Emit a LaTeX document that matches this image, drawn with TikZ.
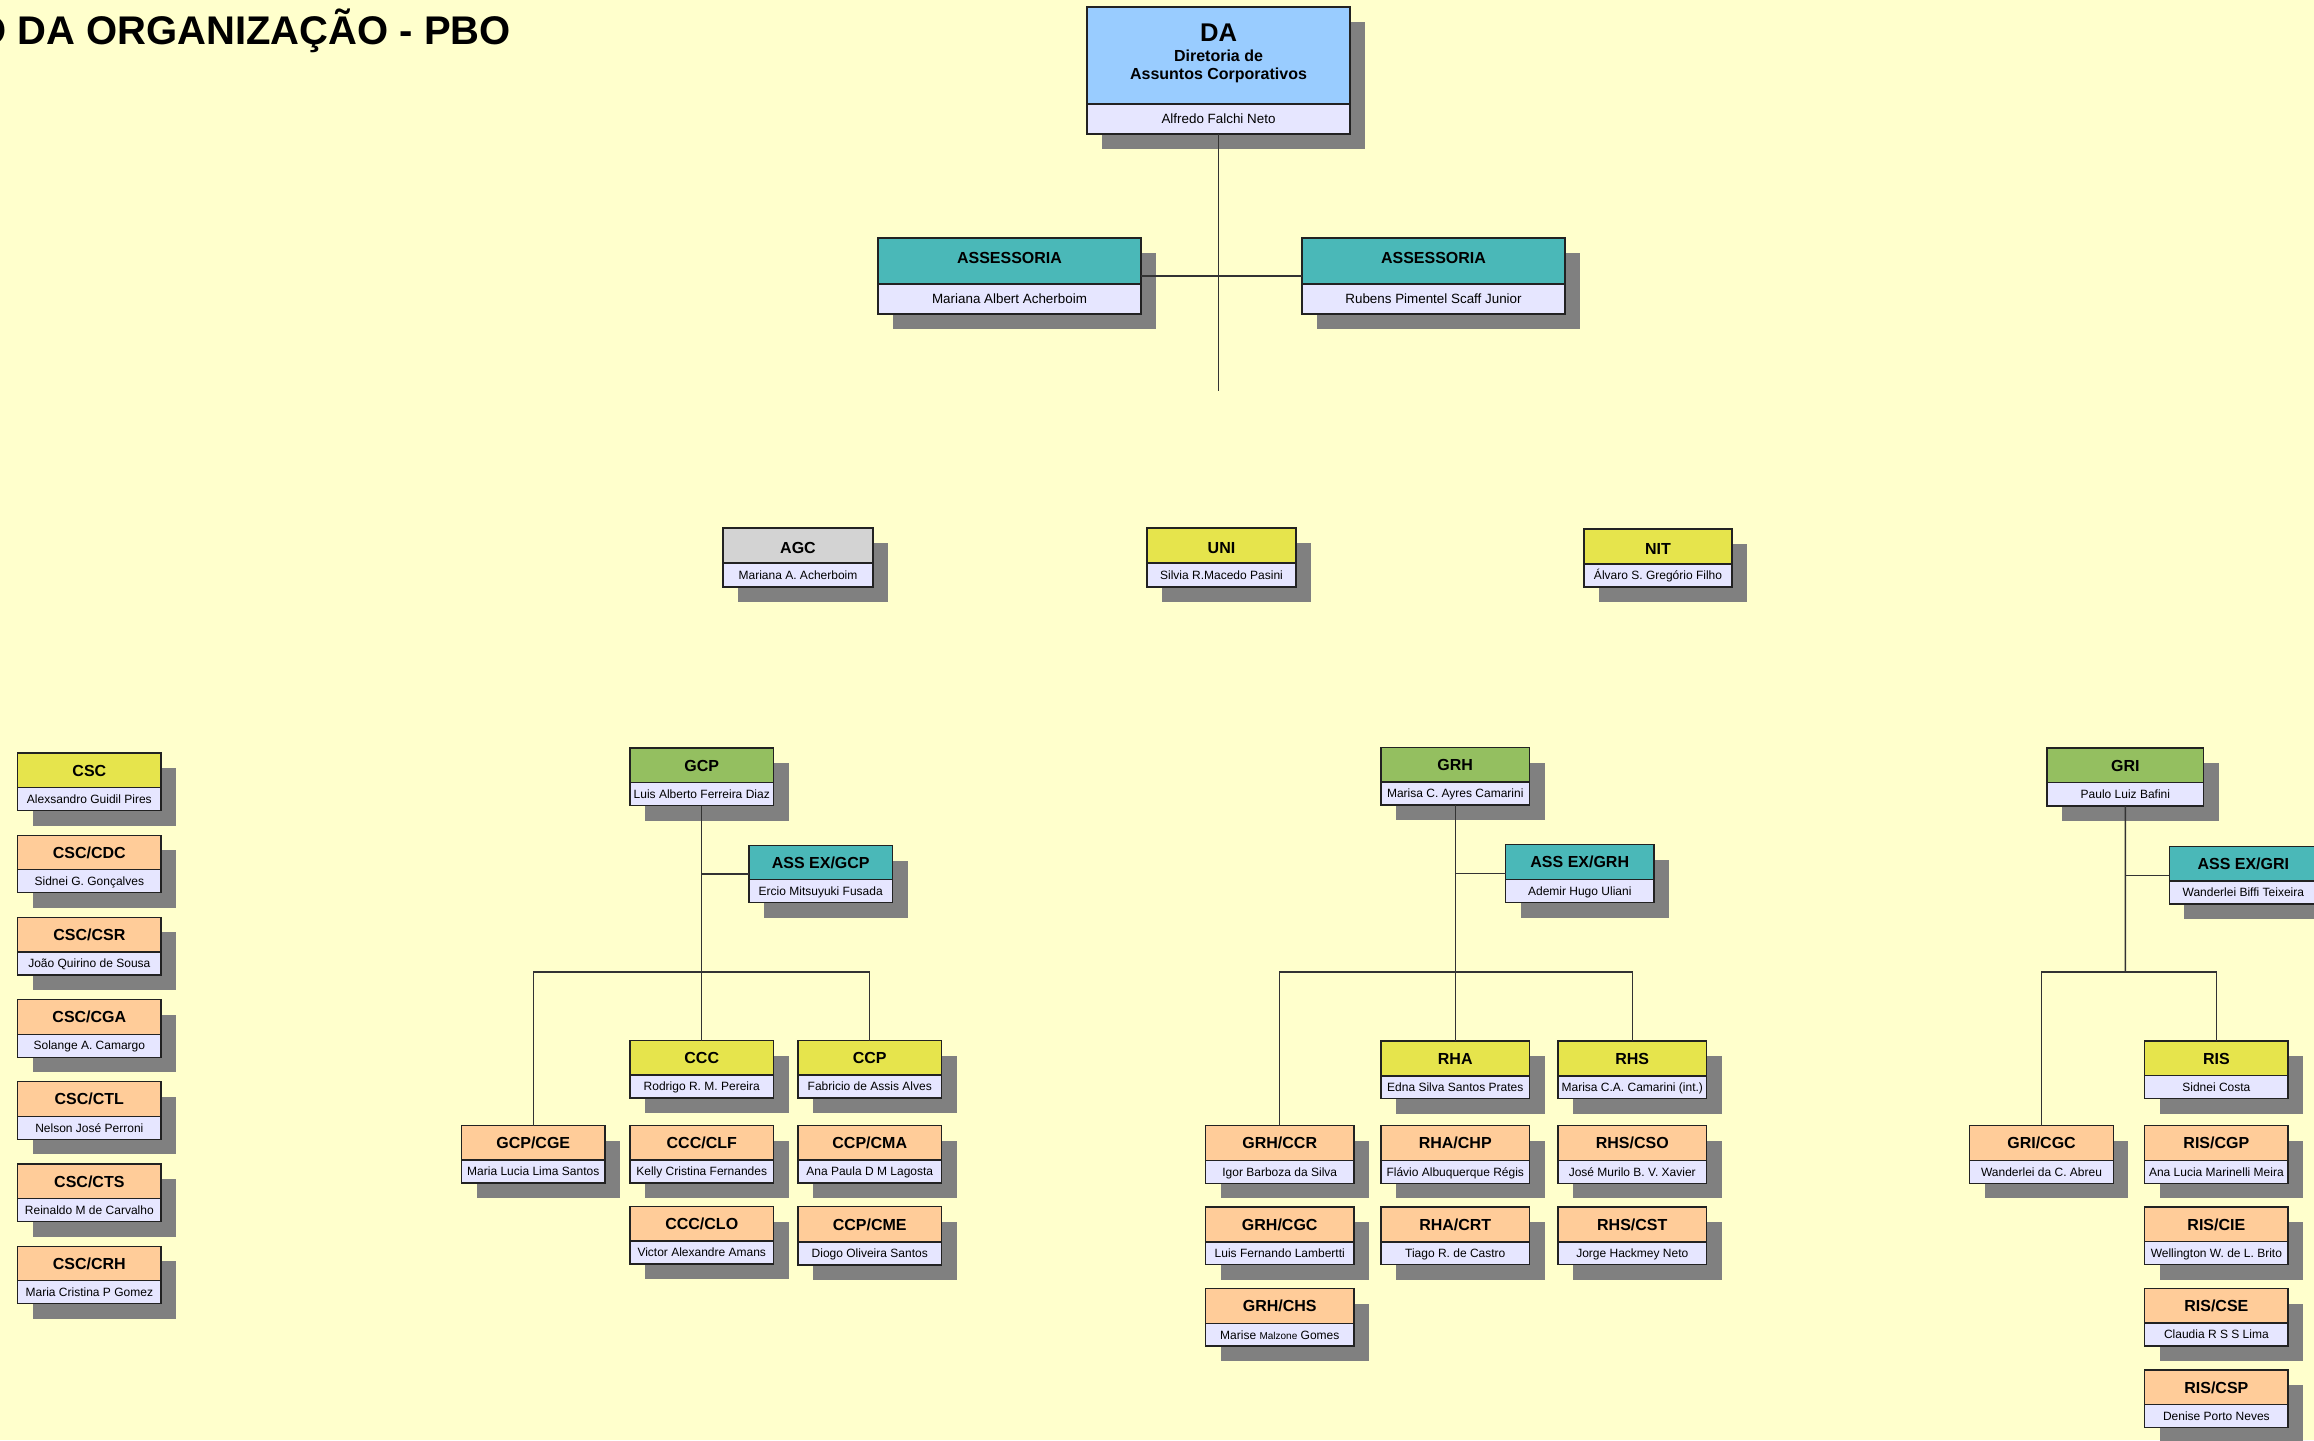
\documentclass[tikz,border=0pt]{standalone}
\usepackage{fontspec}
\setmainfont{Liberation Sans}
\definecolor{bg}{HTML}{FFFFCC}
\definecolor{shadowc}{HTML}{808080}
\definecolor{namec}{HTML}{E6E6FF}
\definecolor{blueh}{HTML}{99CCFF}
\definecolor{tealh}{HTML}{4AB8B8}
\definecolor{greenh}{HTML}{94BF60}
\definecolor{yellowh}{HTML}{E6E44C}
\definecolor{orangeh}{HTML}{FFCC99}
\definecolor{grayh}{HTML}{D3D3D3}
\definecolor{boxc}{HTML}{222222}
\definecolor{linec}{HTML}{333333}
% id, left, top, width, height, header height, colour, header, name
\newcommand{\obox}[9]{%
  \fill[shadowc] ({#2+15},{#3+15}) rectangle ({#2+#4+15},{#3+#5+15});
  \fill[#7] (#2,#3) rectangle ({#2+#4},{#3+#6});
  \fill[namec] (#2,{#3+#6}) rectangle ({#2+#4},{#3+#5});
  \draw[boxline] (#2,{#3+#6}) -- ({#2+#4},{#3+#6});
  \node[boxframe, minimum width=#4pt, minimum height=#5pt] (#1) at ({#2+#4/2},{#3+#5/2}) {};
  \node[hdrtxt] (#1-h) at ({#2+#4/2},{#3+#6/2+\hdy}) {#8};
  \node[nametxt] (#1-n) at ({#2+#4/2},{#3+(#5+#6)/2}) {#9};
}
\def\hdy{0}
\begin{document}
\begin{tikzpicture}[x=1pt, y=-1pt,
  boxframe/.style={draw=boxc, line width=1.2pt, inner sep=0pt, outer sep=0pt},
  boxline/.style={draw=boxc, line width=1.2pt},
  conn/.style={draw=linec, line width=1.3pt},
  hdrtxt/.style={font=\fontsize{16}{19}\selectfont\bfseries, inner sep=0pt, text height=11.5pt, text depth=0pt},
  nametxt/.style={font=\fontsize{12}{14}\selectfont, inner sep=0pt, text height=8.6pt, text depth=0pt},
  toptxt/.style={font=\fontsize{13.4}{16}\selectfont, inner sep=0pt, text height=9.6pt, text depth=0pt},
  titletxt/.style={font=\fontsize{40}{46}\selectfont\bfseries, inner sep=0pt, anchor=base east}]
\fill[bg] (0,0) rectangle (2314,1440);
\useasboundingbox (0,0) rectangle (2314,1440);
\begin{scope}
\clip (0,0) rectangle (2314,1440);

% title
\node[titletxt] (title) at (511,44.3) {O DA ORGANIZAÇÃO - PBO};

% DA
\fill[shadowc] (1102,22) rectangle (1365,149);
\fill[blueh] (1087,7) rectangle (1350,104);
\fill[namec] (1087,104) rectangle (1350,134);
\draw[boxline] (1087,104) -- (1350,104);
\node[boxframe, minimum width=263pt, minimum height=127pt] (da) at (1218.5,70.5) {};
\node[font=\fontsize{25.6}{30}\selectfont\bfseries, inner sep=0pt, anchor=base] (da-t) at (1218.5,41.7) {DA};
\node[font=\fontsize{16}{19}\selectfont\bfseries, inner sep=0pt, anchor=base] (da-l1) at (1218.5,61) {Diretoria de};
\node[font=\fontsize{16}{19}\selectfont\bfseries, inner sep=0pt, anchor=base] (da-l2) at (1218.5,79) {Assuntos Corporativos};
\node[toptxt] (da-n) at (1218.5,119) {Alfredo Falchi Neto};

% Assessorias
\begin{scope}[nametxt/.style={toptxt}]
\def\hdy{-3.5}
\obox{as1}{878}{238}{263}{76}{46}{tealh}{ASSESSORIA}{Mariana Albert Acherboim}
\obox{as2}{1302}{238}{263}{76}{46}{tealh}{ASSESSORIA}{Rubens Pimentel Scaff Junior}
\end{scope}

% level 2
\begin{scope}
\def\hdy{2.5}
\obox{agc}{723}{528}{150}{59}{35}{grayh}{AGC}{Mariana A. Acherboim}
\obox{uni}{1147}{528}{149}{59}{35}{yellowh}{UNI}{Silvia R.Macedo Pasini}
\obox{nit}{1584}{529}{148}{58}{35}{yellowh}{NIT}{Álvaro S. Gregório Filho}
\end{scope}

% CSC column
\obox{csc}{17.7}{753}{143.3}{57.5}{34.5}{yellowh}{CSC}{Alexsandro Guidil Pires}
\obox{cdc}{17.7}{835.2}{143.3}{57.5}{34.5}{orangeh}{CSC/CDC}{Sidnei G. Gonçalves}
\obox{csr}{17.7}{917.4}{143.3}{57.5}{34.5}{orangeh}{CSC/CSR}{João Quirino de Sousa}
\obox{cga}{17.7}{999.6}{143.3}{57.5}{34.5}{orangeh}{CSC/CGA}{Solange A. Camargo}
\obox{ctl}{17.7}{1081.8}{143.3}{57.5}{34.5}{orangeh}{CSC/CTL}{Nelson José Perroni}
\obox{cts}{17.7}{1164}{143.3}{57.5}{34.5}{orangeh}{CSC/CTS}{Reinaldo M de Carvalho}
\obox{crh}{17.7}{1246.2}{143.3}{57.5}{34.5}{orangeh}{CSC/CRH}{Maria Cristina P Gomez}

% GCP group
\obox{gcp}{630}{748}{143.5}{57.5}{34.5}{greenh}{GCP}{Luis Alberto Ferreira Diaz}
\obox{agcp}{749}{845.5}{143.5}{57}{34}{tealh}{ASS EX/GCP}{Ercio Mitsuyuki Fusada}
\obox{ccc}{630}{1040.5}{143.5}{57.5}{34.5}{yellowh}{CCC}{Rodrigo R. M. Pereira}
\obox{ccp}{798}{1040.5}{143.5}{57.5}{34.5}{yellowh}{CCP}{Fabricio de Assis Alves}
\obox{cge}{461.5}{1125.5}{143.5}{57.5}{34.5}{orangeh}{GCP/CGE}{Maria Lucia Lima Santos}
\obox{clf}{630}{1125.5}{143.5}{57.5}{34.5}{orangeh}{CCC/CLF}{Kelly Cristina Fernandes}
\obox{cma}{798}{1125.5}{143.5}{57.5}{34.5}{orangeh}{CCP/CMA}{Ana Paula D M Lagosta}
\obox{clo}{630}{1206.5}{143.5}{57.5}{34.5}{orangeh}{CCC/CLO}{Victor Alexandre Amans}
\obox{cme}{798}{1206.5}{143.5}{58.5}{35.5}{orangeh}{CCP/CME}{Diogo Oliveira Santos}

% GRH group
\obox{grh}{1381}{747.5}{148.5}{57.5}{34.5}{greenh}{GRH}{Marisa C. Ayres Camarini}
\obox{agrh}{1505.5}{844.5}{148.5}{58}{35}{tealh}{ASS EX/GRH}{Ademir Hugo Uliani}
\obox{rha}{1381}{1041}{148.5}{57.5}{35}{yellowh}{RHA}{Edna Silva Santos Prates}
\obox{rhs}{1558}{1041}{148.5}{57.5}{35}{yellowh}{RHS}{Marisa C.A. Camarini (int.)}
\obox{gccr}{1205.5}{1125.7}{148.5}{57.5}{35}{orangeh}{GRH/CCR}{Igor Barboza da Silva}
\obox{chp}{1381}{1125.7}{148.5}{57.5}{35}{orangeh}{RHA/CHP}{Flávio Albuquerque Régis}
\obox{cso}{1558}{1125.7}{148.5}{57.5}{35}{orangeh}{RHS/CSO}{José Murilo B. V. Xavier}
\obox{gcgc}{1205.5}{1207}{148.5}{57.5}{35}{orangeh}{GRH/CGC}{Luis Fernando Lambertti}
\obox{crt}{1381}{1207}{148.5}{57.5}{35}{orangeh}{RHA/CRT}{Tiago R. de Castro}
\obox{cst}{1558}{1207}{148.5}{57.5}{35}{orangeh}{RHS/CST}{Jorge Hackmey Neto}
\obox{chs}{1205.5}{1288.5}{148.5}{57.5}{35}{orangeh}{GRH/CHS}{Marise {\fontsize{10}{12}\selectfont Malzone} Gomes}

% GRI group
\obox{gri}{2047}{748}{156.7}{58}{34.5}{greenh}{GRI}{Paulo Luiz Bafini}
\obox{agri}{2169.3}{846.5}{148}{57.5}{34.5}{tealh}{ASS EX/GRI}{Wanderlei Biffi Teixeira}
\obox{ris}{2144.7}{1041}{143.3}{57.5}{34.5}{yellowh}{RIS}{Sidnei Costa}
\obox{rcgc}{1969.7}{1125.7}{143.6}{57.5}{34.5}{orangeh}{GRI/CGC}{Wanderlei da C. Abreu}
\obox{cgp}{2144.7}{1125.7}{143.3}{57.5}{34.5}{orangeh}{RIS/CGP}{Ana Lucia Marinelli Meira}
\obox{cie}{2144.7}{1207}{143.3}{57.5}{34.5}{orangeh}{RIS/CIE}{Wellington W. de L. Brito}
\obox{cse}{2144.7}{1288.5}{143.3}{57.5}{34.5}{orangeh}{RIS/CSE}{Claudia R S S Lima}
\obox{csp}{2144.7}{1370}{143.3}{57.5}{34.5}{orangeh}{RIS/CSP}{Denise Porto Neves}

% connectors
\coordinate (daend) at (1218.5,391);
\draw[conn] (da.south) -- (daend);
\draw[conn] (as1.east) -- (as2.west);

\coordinate (gcpbus) at (701.75,972);
\draw[conn] (gcp.south) -- (ccc.north);
\draw[conn] (gcp.south |- agcp.west) -- (agcp.west);
\draw[conn] (cge.north) |- (gcpbus) -| (ccp.north);

\coordinate (grhbus) at (1455.25,972);
\draw[conn] (grh.south) -- (rha.north);
\draw[conn] (grh.south |- agrh.west) -- (agrh.west);
\draw[conn] (gccr.north) |- (grhbus) -| (rhs.north);

\coordinate (gribus) at (2125.35,972);
\draw[conn] (gri.south) -- (gribus);
\draw[conn] (gri.south |- agri.west) -- (agri.west);
\draw[conn] (rcgc.north) |- (gribus) -| (ris.north);
\end{scope}
\end{tikzpicture}
\end{document}
